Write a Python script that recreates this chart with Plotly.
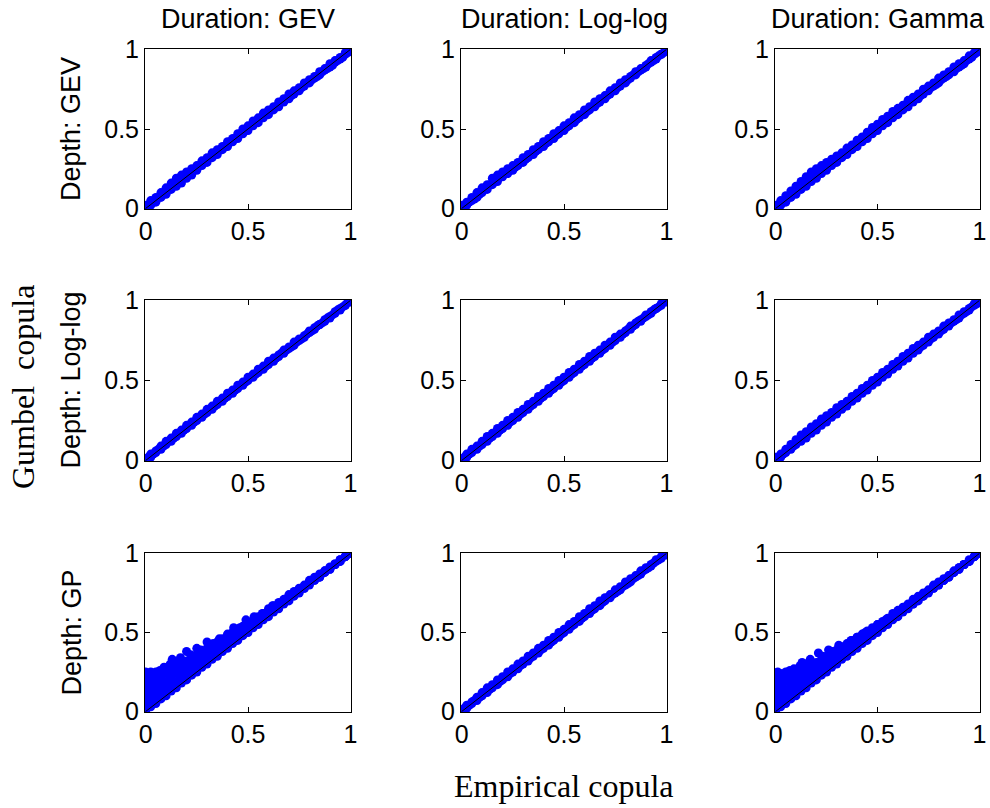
import plotly.graph_objects as go
from plotly.subplots import make_subplots

# ---------------- data ----------------
COL_TITLES = ["Duration: GEV", "Duration: Log-log", "Duration: Gamma"]
ROW_TITLES = ["Depth: GEV", "Depth: Log-log", "Depth: GP"]
TICK_VALS = [0, 0.5, 1]
TICK_TEXT = ["0", "0.5", "1"]

# empirical copula values (common grids)
X_EMP = [0, .025, .05, .075, .1, .125, .15, .175, .2, .225, .25, .275, .3, .325, .35, .375, .4,
         .425, .45, .475, .5, .525, .55, .575, .6, .625, .65, .675, .7, .725, .75, .775, .8,
         .825, .85, .875, .9, .925, .95, .975, 1.0]
X_MID = [.0125, .0375, .0625, .0875, .1125, .1375, .1625, .1875, .2125, .2375, .2625, .2875, .3125,
         .3375, .3625, .3875, .4125, .4375, .4625, .4875, .5125, .5375, .5625, .5875, .6125, .6375,
         .6625, .6875, .7125, .7375, .7625, .7875, .8125, .8375, .8625, .8875, .9125, .9375, .9625, .9875]

# Depth GEV / Duration GEV
P11_HI = [.02, .05, .07, .10, .13, .16, .19, .21, .23, .25, .27, .30, .32, .35, .37, .39, .42, .44, .47, .50, .52,
          .55, .57, .60, .62, .64, .67, .69, .72, .74, .76, .79, .81, .83, .86, .88, .91, .93, .95, .98, 1.0]
P11_LO = [.00, .02, .04, .07, .09, .12, .14, .16, .19, .21, .24, .27, .29, .32, .34, .37, .39, .42, .44, .47, .49,
          .52, .54, .57, .59, .62, .64, .67, .69, .72, .74, .77, .79, .82, .84, .87, .89, .92, .94, .97, .99]
P11_MID = [.02, .04, .07, .09, .12, .15, .17, .20, .22, .24, .27, .29, .32, .34, .37, .39, .42, .44, .47, .49,
           .52, .54, .57, .59, .62, .64, .67, .69, .71, .74, .76, .79, .81, .83, .86, .88, .90, .93, .95, .98]
# Depth GEV / Duration Log-log
P12_HI = [.02, .04, .07, .10, .13, .15, .19, .21, .23, .25, .27, .29, .32, .34, .37, .39, .42, .44, .47, .49, .52,
          .54, .57, .59, .62, .64, .67, .69, .71, .74, .76, .79, .81, .83, .86, .88, .90, .93, .95, .97, 1.0]
P12_LO = [.00, .02, .05, .07, .10, .12, .15, .17, .20, .22, .24, .27, .29, .32, .34, .37, .39, .42, .44, .47, .49,
          .52, .54, .57, .59, .62, .64, .67, .69, .72, .74, .77, .79, .82, .84, .87, .89, .92, .94, .97, .99]
P12_MID = [.01, .04, .06, .09, .12, .15, .17, .20, .22, .24, .26, .29, .31, .34, .36, .39, .41, .44, .46, .49,
           .51, .54, .56, .59, .61, .64, .66, .69, .71, .74, .76, .79, .81, .84, .86, .88, .91, .93, .96, .98]
# Depth GEV / Duration Gamma
P13_HI = [.02, .05, .08, .11, .14, .17, .20, .23, .25, .27, .29, .31, .33, .35, .38, .40, .43, .45, .48, .51, .53,
          .56, .58, .61, .63, .65, .68, .70, .72, .75, .77, .79, .82, .84, .86, .89, .91, .93, .96, .98, 1.0]
P13_LO = [.00, .02, .04, .07, .09, .12, .14, .17, .19, .22, .24, .27, .29, .32, .34, .37, .39, .42, .44, .47, .49,
          .52, .54, .57, .59, .62, .64, .67, .69, .72, .74, .77, .79, .82, .84, .86, .89, .91, .94, .97, .99]
P13_MID = [.02, .04, .07, .10, .13, .16, .18, .21, .23, .25, .28, .30, .32, .34, .37, .39, .42, .44, .47, .50,
           .52, .55, .57, .60, .62, .64, .67, .69, .71, .74, .76, .78, .81, .83, .86, .88, .90, .93, .95, .98]
# Depth Log-log / Duration GEV
P21_HI = [.01, .04, .06, .09, .12, .14, .17, .19, .22, .24, .27, .29, .32, .34, .37, .39, .42, .44, .47, .49, .52,
          .54, .57, .59, .62, .64, .66, .69, .71, .74, .76, .78, .81, .83, .85, .88, .90, .93, .95, .97, 1.0]
P21_LO = [.00, .02, .05, .07, .10, .12, .15, .17, .20, .22, .25, .27, .30, .32, .35, .37, .40, .42, .45, .47, .50,
          .52, .55, .57, .60, .62, .65, .67, .70, .72, .75, .77, .80, .82, .85, .87, .89, .92, .94, .97, .99]
P21_MID = [.02, .04, .07, .09, .12, .14, .17, .19, .22, .24, .27, .29, .32, .34, .37, .39, .42, .44, .47, .49,
           .52, .54, .57, .59, .62, .64, .67, .69, .71, .74, .76, .79, .81, .84, .86, .89, .91, .94, .96, .99]
# Depth Log-log / Duration Log-log
P22_HI = [.01, .04, .07, .09, .12, .15, .17, .20, .22, .25, .27, .30, .32, .35, .37, .40, .42, .45, .47, .50, .52,
          .55, .57, .60, .62, .65, .67, .69, .72, .74, .77, .79, .81, .84, .86, .88, .91, .93, .95, .98, 1.0]
P22_LO = [.00, .02, .05, .07, .10, .12, .15, .17, .20, .22, .25, .27, .30, .32, .35, .37, .40, .42, .45, .47, .50,
          .52, .55, .57, .60, .62, .65, .67, .70, .72, .75, .77, .80, .82, .85, .87, .90, .92, .95, .97, .99]
P22_MID = [.02, .04, .07, .09, .12, .14, .17, .19, .22, .24, .27, .29, .32, .34, .37, .39, .42, .44, .47, .49,
           .52, .54, .57, .59, .62, .64, .67, .69, .72, .74, .77, .79, .82, .84, .87, .89, .91, .94, .96, .99]
# Depth Log-log / Duration Gamma
P23_HI = [.02, .04, .07, .10, .13, .16, .18, .21, .23, .26, .28, .30, .33, .35, .37, .40, .42, .45, .47, .50, .52,
          .55, .57, .60, .62, .65, .67, .70, .72, .74, .77, .79, .81, .84, .86, .88, .91, .93, .95, .98, 1.0]
P23_LO = [.00, .02, .05, .07, .10, .12, .14, .17, .19, .22, .24, .27, .29, .32, .34, .37, .39, .42, .44, .47, .49,
          .52, .54, .57, .59, .62, .64, .67, .69, .72, .74, .77, .79, .82, .84, .87, .89, .92, .94, .97, .99]
P23_MID = [.02, .04, .07, .09, .12, .15, .17, .20, .22, .25, .27, .29, .32, .34, .37, .39, .42, .44, .47, .49,
           .52, .54, .57, .59, .62, .64, .67, .69, .71, .74, .76, .79, .81, .84, .86, .88, .91, .93, .96, .98]
# Depth GP / Duration GEV
P31_S = [.15, .18, .20, .22, .24, .26, .28, .30, .32, .34, .36, .38, .40, .42, .44, .46, .48, .50, .52, .54, .56,
         .58, .60, .62, .65, .67, .69, .71, .74, .76, .78, .80, .83, .85, .87, .89, .915, .935, .96, .98, 1.0]
P31_M2 = [.10, .13, .15, .17, .19, .22, .24, .26, .28, .30, .32, .35, .37, .39, .41, .43, .45, .48, .50, .52, .54,
          .56, .58, .61, .63, .66, .68, .70, .73, .75, .77, .79, .82, .84, .86, .89, .91, .93, .96, .98, 1.0]
P31_M1 = [.05, .08, .10, .13, .15, .17, .19, .22, .24, .27, .29, .31, .33, .36, .38, .41, .43, .45, .47, .50, .52,
          .55, .57, .59, .62, .64, .66, .69, .71, .74, .76, .78, .81, .83, .85, .88, .90, .93, .95, .98, 1.0]
P31_LO = [.00, .03, .05, .08, .10, .13, .15, .18, .20, .23, .25, .28, .30, .33, .35, .38, .40, .43, .45, .48, .50,
          .53, .55, .58, .60, .63, .65, .68, .70, .73, .75, .78, .80, .83, .85, .88, .90, .93, .95, .98, 1.0]
P31_CX = [0.0, 0.0, 0.0, .005, .01, .015, .025, .03, .04, .05, .06, .07, .09, .10, .12, .13, .15, .17, .20,
          .22, .25, .27, .30, .33, .36, .40, .43, .46, .49, .53, .57, .62, 0.0, .005, .01, .012]
P31_CY = [.18, .22, .25, .20, .24, .16, .25, .21, .23, .25, .22, .26, .28, .26, .30, .33, .31, .34, .38,
          .36, .40, .39, .44, .43, .46, .49, .53, .53, .58, .60, .62, .67, .05, .08, .12, .03]
# Depth GP / Duration Log-log
P32_HI = [.01, .04, .06, .09, .12, .15, .17, .20, .22, .25, .27, .30, .32, .35, .37, .40, .42, .45, .47, .50, .52,
          .55, .57, .60, .62, .65, .67, .70, .72, .74, .77, .79, .82, .84, .86, .89, .91, .93, .96, .98, 1.0]
P32_LO = [.00, .02, .05, .07, .10, .12, .15, .17, .20, .22, .25, .27, .30, .32, .35, .37, .40, .42, .45, .47, .50,
          .52, .55, .57, .60, .62, .65, .67, .70, .72, .75, .77, .80, .82, .85, .87, .90, .92, .95, .97, .99]
P32_MID = [.02, .04, .07, .09, .12, .14, .17, .19, .22, .24, .27, .29, .32, .34, .37, .39, .42, .44, .47, .49,
           .52, .54, .57, .59, .62, .64, .67, .69, .72, .74, .76, .79, .81, .84, .86, .89, .91, .94, .96, .99]
# Depth GP / Duration Gamma
P33_S = [.15, .17, .19, .21, .23, .25, .27, .29, .31, .33, .35, .37, .39, .41, .43, .45, .47, .49, .51, .53, .55,
         .57, .59, .62, .64, .66, .68, .71, .73, .75, .77, .80, .82, .84, .86, .89, .91, .93, .96, .98, 1.0]
P33_M2 = [.10, .12, .14, .16, .19, .21, .23, .25, .27, .30, .32, .34, .36, .38, .40, .43, .45, .47, .49, .51, .53,
          .56, .58, .60, .62, .65, .67, .69, .72, .74, .76, .79, .81, .83, .86, .88, .91, .93, .95, .98, 1.0]
P33_M1 = [.05, .08, .10, .12, .14, .17, .19, .21, .24, .26, .28, .31, .33, .35, .37, .40, .42, .44, .47, .49, .51,
          .54, .56, .59, .61, .64, .66, .68, .71, .73, .76, .78, .80, .83, .85, .88, .90, .93, .95, .98, 1.0]
P33_LO = [.00, .03, .05, .08, .10, .13, .15, .18, .20, .23, .25, .28, .30, .33, .35, .38, .40, .43, .45, .48, .50,
          .53, .55, .58, .60, .63, .65, .68, .70, .73, .75, .78, .80, .83, .85, .88, .90, .93, .95, .98, 1.0]
P33_CX = [0.0, 0.0, 0.0, .005, .01, .015, .025, .03, .04, .05, .06, .07, .09, .10, .12, .13, .15, .17, .21,
          .23, .26, .28, .31, .34, .37, .40, .44, .47, .50, .54, .58, .63, 0.0, .005, .01, .012]
P33_CY = [.17, .21, .24, .19, .25, .15, .24, .20, .22, .25, .21, .26, .27, .25, .29, .31, .30, .33, .37,
          .35, .39, .38, .42, .41, .45, .47, .50, .51, .55, .58, .61, .66, .06, .09, .13, .03]

# diagonal reference line (start and end, in copula units)
DIAG = [0, 1]

# ------------- assemble -------------
PANELS = {
    (1, 1): [(X_EMP, P11_HI), (X_EMP, P11_LO), (X_MID, P11_MID)],
    (1, 2): [(X_EMP, P12_HI), (X_EMP, P12_LO), (X_MID, P12_MID)],
    (1, 3): [(X_EMP, P13_HI), (X_EMP, P13_LO), (X_MID, P13_MID)],
    (2, 1): [(X_EMP, P21_HI), (X_EMP, P21_LO), (X_MID, P21_MID)],
    (2, 2): [(X_EMP, P22_HI), (X_EMP, P22_LO), (X_MID, P22_MID)],
    (2, 3): [(X_EMP, P23_HI), (X_EMP, P23_LO), (X_MID, P23_MID)],
    (3, 1): [(X_EMP, P31_S), (X_EMP, P31_M2), (X_EMP, P31_M1), (X_EMP, P31_LO), (P31_CX, P31_CY)],
    (3, 2): [(X_EMP, P32_HI), (X_EMP, P32_LO), (X_MID, P32_MID)],
    (3, 3): [(X_EMP, P33_S), (X_EMP, P33_M2), (X_EMP, P33_M1), (X_EMP, P33_LO), (P33_CX, P33_CY)],
}

W, H = 990, 808
COL_PX = [(145, 351), (461, 667), (775, 980)]
ROW_PX = [(49, 209), (300, 461), (553, 712)]

fig = make_subplots(rows=3, cols=3)

for (r, c), series in PANELS.items():
    for xs, ys in series:
        fig.add_trace(go.Scatter(x=xs, y=ys, mode="markers",
                                 marker=dict(color="#0000ff", size=9, line=dict(width=0)),
                                 cliponaxis=True, showlegend=False, hoverinfo="skip"),
                      row=r, col=c)
    fig.add_trace(go.Scatter(x=DIAG, y=DIAG, mode="lines",
                             line=dict(color="#000000", width=1),
                             cliponaxis=True, showlegend=False, hoverinfo="skip"),
                  row=r, col=c)

axfont = dict(family="Liberation Sans, Arial, sans-serif", size=25, color="black")
for r in range(1, 4):
    for c in range(1, 4):
        x0, x1 = COL_PX[c - 1]
        y0, y1 = ROW_PX[r - 1]
        common = dict(range=[-0.003, 1.003], tickvals=TICK_VALS, ticktext=TICK_TEXT,
                      ticks="inside", ticklen=5, tickwidth=1, tickcolor="black",
                      showline=True, linecolor="black", linewidth=1, mirror="ticks",
                      showgrid=False, zeroline=False, tickfont=axfont, fixedrange=True,
                      automargin=False)
        fig.update_xaxes(domain=[x0 / W, x1 / W], row=r, col=c, **common)
        fig.update_yaxes(domain=[1 - y1 / H, 1 - y0 / H], row=r, col=c, **common)

annots = []
tfont = dict(family="Liberation Sans, Arial, sans-serif", size=27, color="black")
for i, t in enumerate(COL_TITLES):
    x0, x1 = COL_PX[i]
    annots.append(dict(text=t, x=(x0 + x1) / 2 / W, y=1 - 19 / H, xref="paper", yref="paper",
                       showarrow=False, font=tfont, xanchor="center", yanchor="middle"))
for i, t in enumerate(ROW_TITLES):
    y0, y1 = ROW_PX[i]
    annots.append(dict(text=t, x=71 / W, y=1 - (y0 + y1) / 2 / H, xref="paper", yref="paper",
                       showarrow=False, font=tfont, textangle=-90, xanchor="center", yanchor="middle"))
sfont = dict(family="Liberation Serif, Times New Roman, serif", size=32, color="black")
annots.append(dict(text="Gumbel\u00a0 copula", x=23 / W, y=1 - 387 / H, xref="paper", yref="paper",
                   showarrow=False, font=sfont, textangle=-90, xanchor="center", yanchor="middle"))
annots.append(dict(text="Empirical copula", x=563 / W, y=1 - 786 / H, xref="paper", yref="paper",
                   showarrow=False, font=sfont, xanchor="center", yanchor="middle"))

fig.update_layout(width=W, height=H, margin=dict(l=0, r=0, t=0, b=0),
                  paper_bgcolor="white", plot_bgcolor="white", annotations=annots)

fig.write_html("out.html")
